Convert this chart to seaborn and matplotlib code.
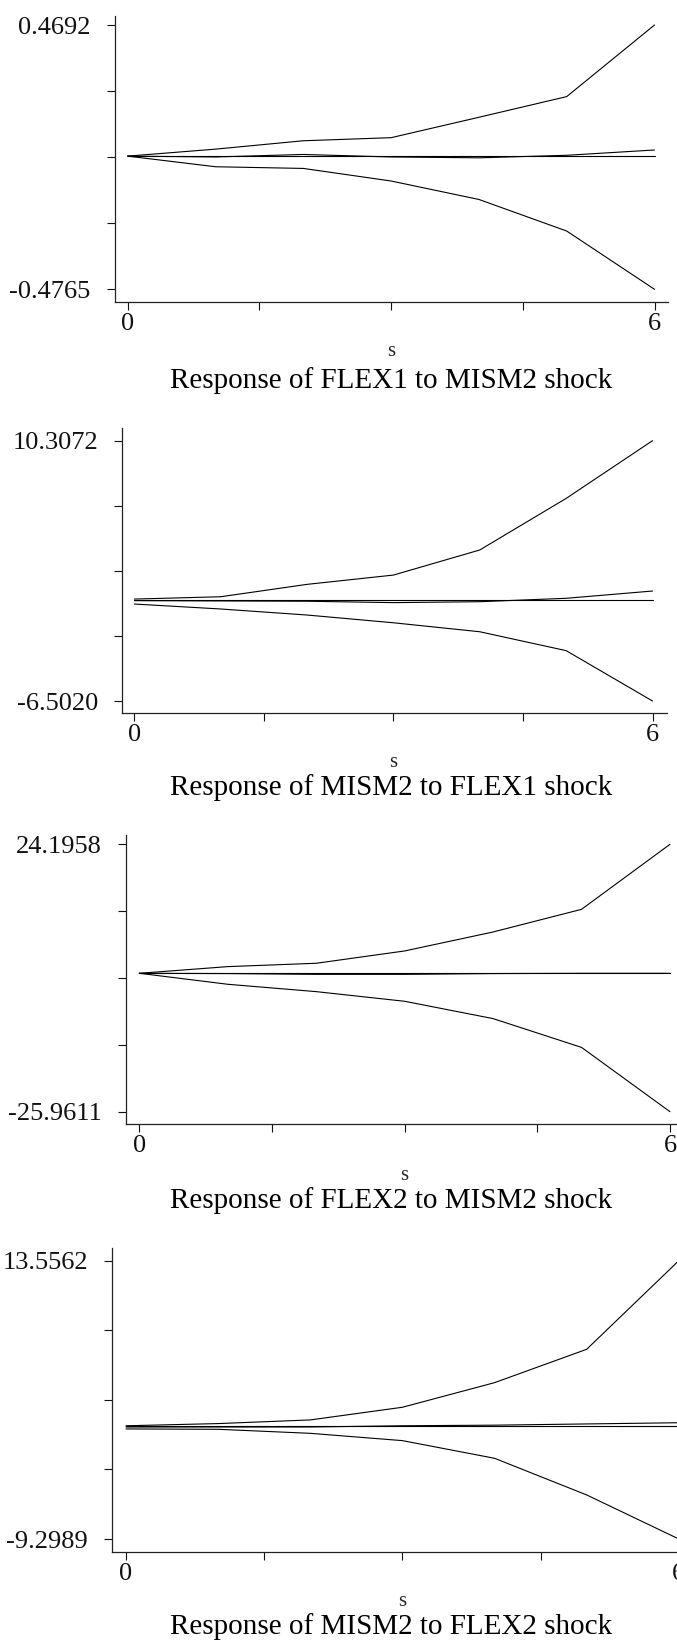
import numpy as np
import pandas as pd
import matplotlib
matplotlib.use("Agg")
import matplotlib.pyplot as plt
import seaborn as sns

# ---------------- data ----------------
steps = [0, 1, 2, 3, 4, 5, 6]
zero_line = [0, 0, 0, 0, 0, 0, 0]

flex1_mism2_upper = [0.0, 0.025, 0.055, 0.066, 0.139, 0.213, 0.4692]
flex1_mism2_irf = [0.0, -0.003, 0.006, -0.003, -0.006, 0.003, 0.022]
flex1_mism2_lower = [0.0, -0.038, -0.044, -0.089, -0.155, -0.268, -0.4765]

mism2_flex1_upper = [0.08, 0.23, 1.03, 1.63, 3.25, 6.58, 10.3072]
mism2_flex1_irf = [-0.02, -0.04, -0.06, -0.15, -0.09, 0.13, 0.6]
mism2_flex1_lower = [-0.24, -0.56, -0.95, -1.45, -2.03, -3.25, -6.5020]

flex2_mism2_upper = [0.0, 1.25, 1.88, 4.19, 7.75, 12.0, 24.1958]
flex2_mism2_irf = [0.0, -0.05, -0.2, -0.2, -0.05, 0.0, 0.0]
flex2_mism2_lower = [0.0, -2.06, -3.44, -5.25, -8.5, -13.9, -25.9611]

mism2_flex2_upper = [0.0, 0.18, 0.48, 1.52, 3.54, 6.28, 13.5562]
mism2_flex2_irf = [-0.1, -0.1, -0.1, 0.0, 0.05, 0.15, 0.25]
mism2_flex2_lower = [-0.26, -0.29, -0.62, -1.22, -2.67, -5.68, -9.2989]

titles = ["Response of FLEX1 to MISM2 shock",
          "Response of MISM2 to FLEX1 shock",
          "Response of FLEX2 to MISM2 shock",
          "Response of MISM2 to FLEX2 shock"]
ytick_top_labels = ["0.4692", "10.3072", "24.1958", "13.5562"]
ytick_bottom_labels = ["-0.4765", "-6.5020", "-25.9611", "-9.2989"]
xtick_values = [0, 1.5, 3, 4.5, 6]
xtick_labels = ["0", "", "", "", "6"]
x_label = "s"

series = [
    (flex1_mism2_upper, flex1_mism2_irf, flex1_mism2_lower),
    (mism2_flex1_upper, mism2_flex1_irf, mism2_flex1_lower),
    (flex2_mism2_upper, flex2_mism2_irf, flex2_mism2_lower),
    (mism2_flex2_upper, mism2_flex2_irf, mism2_flex2_lower),
]

# ---------------- layout (pixels) ----------------
W, H = 677, 1641
# left, right, top, bottom of axes box; px of x=0, x=6; px of top/bottom y ticks;
# baseline of xlabel; baseline of title
layout = [
    (115.0, 668.0, 16.0, 301.7, 127.7, 654.5, 25.0, 289.3, 356.0, 388.0),
    (122.3, 666.7, 428.3, 713.3, 134.3, 652.5, 440.7, 701.0, 767.0, 795.0),
    (126.0, 682.0, 835.0, 1124.0, 139.3, 670.0, 844.3, 1111.7, 1180.0, 1208.0),
    (112.3, 690.0, 1248.0, 1551.7, 126.0, 678.8, 1260.7, 1539.0, 1606.0, 1634.0),
]

sns.set_style("ticks")
plt.rcParams["font.family"] = ["Liberation Serif", "DejaVu Serif"]

fig = plt.figure(figsize=(W / 100, H / 100), dpi=100)
fig.patch.set_facecolor("white")

line_kw = dict(color="black", linewidth=0.8)

for i, (up, irf, lo) in enumerate(series):
    l, r, t, b, x0p, x6p, ytp, ybp, lab_base, tit_base = layout[i]
    ax = fig.add_axes([l / W, 1 - b / H, (r - l) / W, (b - t) / H])
    ax.set_facecolor("white")

    sns.lineplot(x=steps, y=zero_line, ax=ax, **line_kw)
    sns.lineplot(x=steps, y=up, ax=ax, **line_kw)
    sns.lineplot(x=steps, y=irf, ax=ax, **line_kw)
    sns.lineplot(x=steps, y=lo, ax=ax, **line_kw)

    xs = (x6p - x0p) / 6.0
    xmin = (l - x0p) / xs
    xmax = 6 + (r - x6p) / xs
    ytop = max(up)
    ybot = min(lo)
    ys = (ybp - ytp) / (ytop - ybot)
    ymax = ytop + (ytp - t) / ys
    ymin = ybot - (b - ybp) / ys
    ax.set_xlim(xmin, xmax)
    ax.set_ylim(ymin, ymax)

    ax.set_xticks(xtick_values)
    ax.set_xticklabels(xtick_labels)
    ax.set_yticks(np.linspace(ybot, ytop, 5))
    ax.set_yticklabels([ytick_bottom_labels[i], "", "", "", ytick_top_labels[i]])

    sns.despine(ax=ax)
    for sp in ("left", "bottom"):
        ax.spines[sp].set_linewidth(0.9)
        ax.spines[sp].set_color("#222222")
    ax.tick_params(axis="y", direction="out", length=5.5, width=0.8,
                   pad=12, labelsize=19, colors="#111111")
    ax.tick_params(axis="x", direction="out", length=6, width=0.8,
                   pad=2, labelsize=19, colors="#111111")

    ax.set_xlabel(x_label, fontsize=15, va="baseline")
    lx = (3 - xmin) / (xmax - xmin)
    ly = -(lab_base - b) / (b - t)
    ax.xaxis.set_label_coords(lx, ly)
    ax.set_ylabel("")

    fig.text(391 / W, 1 - tit_base / H, titles[i], ha="center", va="baseline",
             fontsize=21, color="black")

fig.savefig("out.png", dpi=100, facecolor="white")
